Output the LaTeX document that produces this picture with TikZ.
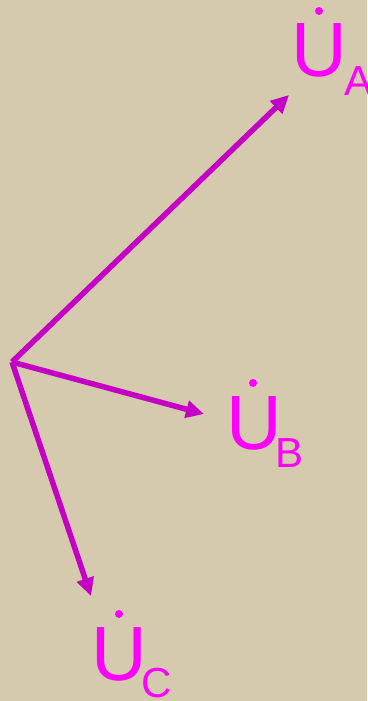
\documentclass[tikz,border=0pt]{standalone}
\usepackage{fontspec}
\setmainfont{Liberation Sans}
\usetikzlibrary{arrows.meta}
\definecolor{bg}{HTML}{D5C9AE}
\definecolor{vec}{HTML}{C400C4}
\definecolor{lbl}{HTML}{FF00FF}
\tikzset{
  vecline/.style={draw=vec, line width=5.5pt, -{Triangle[length=18pt,width=17pt]}},
  bigU/.style={text=lbl, inner sep=0pt, anchor=base, font=\fontsize{77}{77}\selectfont},
  subl/.style={text=lbl, inner sep=0pt, anchor=base, font=\fontsize{42}{42}\selectfont},
  dotmark/.style={fill=lbl, circle, inner sep=0pt, minimum size=8pt}
}
\begin{document}
\begin{tikzpicture}[x=1pt,y=-1pt]
\fill[bg] (0,0) rectangle (367,701);
\useasboundingbox (0,0) rectangle (367,701);
\coordinate (O) at (12,362);
\coordinate (A) at (289,95);
\coordinate (B) at (204,414);
\coordinate (C) at (91,596);
\draw[vecline] (O) -- (A);
\draw[vecline] (O) -- (B);
\draw[vecline] (O) -- (C);
% U_A
\node[bigU] (ua) at (319.5,76) {U};
\node[dotmark] (uad) at (319,11) {};
\node[subl] (sa) at (358.5,95) {A};
% U_B
\node[bigU] (ub) at (254.5,449) {U};
\node[dotmark] (ubd) at (253,383) {};
\node[subl] (sb) at (290,467) {B};
% U_C
\node[bigU] (uc) at (119,680) {U};
\node[dotmark] (ucd) at (119,614) {};
\node[subl] (sc) at (156.5,697) {C};
\end{tikzpicture}
\end{document}
